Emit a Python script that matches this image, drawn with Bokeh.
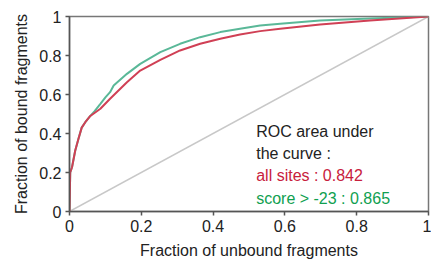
from bokeh.plotting import figure
from bokeh.models import Range1d, FixedTicker, Label
from bokeh.embed import file_html
from bokeh.resources import INLINE

# ROC curves
all_sites_x = [0, 0.002, 0.007, 0.016, 0.025, 0.034, 0.044, 0.058, 0.086, 0.113, 0.16,
               0.197, 0.253, 0.308, 0.364, 0.42, 0.475, 0.531, 0.587, 0.698, 0.837, 1.0]
all_sites_y = [0, 0.2, 0.227, 0.313, 0.373, 0.43, 0.458, 0.49, 0.527, 0.578, 0.663,
               0.723, 0.778, 0.826, 0.86, 0.886, 0.908, 0.925, 0.937, 0.959, 0.98, 1.0]

score_x = [0, 0.002, 0.007, 0.016, 0.025, 0.034, 0.044, 0.058, 0.07, 0.086, 0.1, 0.113,
           0.123, 0.16, 0.197, 0.253, 0.308, 0.364, 0.42, 0.475, 0.531, 0.587, 0.698,
           0.837, 1.0]
score_y = [0, 0.2, 0.227, 0.313, 0.373, 0.43, 0.458, 0.49, 0.515, 0.552, 0.585, 0.612,
           0.646, 0.706, 0.757, 0.817, 0.86, 0.894, 0.92, 0.937, 0.954, 0.963, 0.98,
           0.99, 1.0]

diag_x = [0, 1]
diag_y = [0, 1]

ticks = [0, 0.2, 0.4, 0.6, 0.8, 1.0]
tick_labels = ["0", "0.2", "0.4", "0.6", "0.8", "1"]

annotation_lines = ["ROC area under", "the curve :", "all sites : 0.842", "score > -23 : 0.865"]
annotation_colors = ["#222222", "#222222", "#c8203c", "#10a050"]

FONT = "Liberation Sans"

p = figure(width=431, height=264, output_backend="svg", toolbar_location=None,
           x_range=Range1d(0, 1), y_range=Range1d(0, 1),
           min_border_left=69, min_border_top=16, min_border_right=3, min_border_bottom=53)

p.line(diag_x, diag_y, line_color="#c8c8c8", line_width=1.5)
p.line(score_x, score_y, line_color="#5ab898", line_width=2)
p.line(all_sites_x, all_sites_y, line_color="#d04055", line_width=2)

p.xgrid.visible = False
p.ygrid.visible = False
p.outline_line_color = "#777777"
p.outline_line_width = 1.5

labels_map = {t: l for t, l in zip(ticks, tick_labels)}
for ax in (p.xaxis[0], p.yaxis[0]):
    ax.ticker = FixedTicker(ticks=ticks)
    ax.major_label_overrides = labels_map
    ax.axis_line_color = "#555555"
    ax.axis_line_width = 1.5
    ax.major_tick_line_color = "#555555"
    ax.major_tick_line_width = 1.5
    ax.major_tick_out = 4
    ax.major_tick_in = 0
    ax.minor_tick_line_color = None
    ax.major_label_text_font = FONT
    ax.major_label_text_font_size = "16px"
    ax.major_label_text_color = "#222222"
    ax.axis_label_text_font = FONT
    ax.axis_label_text_font_size = "16px"
    ax.axis_label_text_font_style = "normal"
    ax.axis_label_text_color = "#222222"

p.xaxis.axis_label = "Fraction of unbound fragments"
p.yaxis.axis_label = "Fraction of bound fragments"
p.xaxis.major_label_standoff = 4
p.xaxis.axis_label_standoff = 7
p.yaxis.major_label_standoff = 4
p.yaxis.axis_label_standoff = 6

ann_y = [0.41, 0.297, 0.185, 0.067]
for txt, col, yy in zip(annotation_lines, annotation_colors, ann_y):
    p.add_layout(Label(x=0.52, y=yy, text=txt, text_color=col, text_font=FONT,
                       text_font_size="16px", text_baseline="alphabetic"))

open("out.html", "w").write(file_html(p, INLINE))
